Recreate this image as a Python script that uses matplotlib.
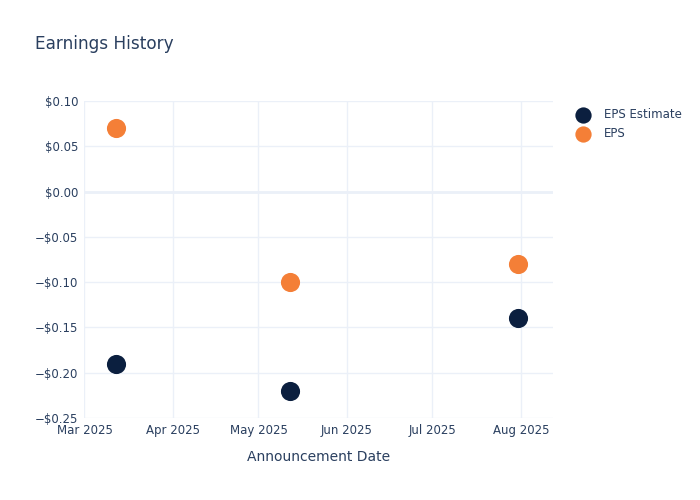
import matplotlib
matplotlib.use("Agg")
import matplotlib.pyplot as plt
import matplotlib.dates as mdates
import matplotlib.ticker as mticker
import numpy as np
import datetime as dt

dates = ["2025-03-12", "2025-05-12", "2025-07-31"]
eps_estimate = [-0.19, -0.22, -0.14]
eps_actual = [0.07, -0.10, -0.08]
yticks = [0.10, 0.05, 0.00, -0.05, -0.10, -0.15, -0.20, -0.25]

x = [dt.datetime.strptime(d, "%Y-%m-%d") for d in dates]

text_color = "#2a3f5f"
grid_color = "#ebf0f8"

fig = plt.figure(figsize=(7, 5), dpi=100)
ax = fig.add_axes([84/700, 1-418/500, (553-84)/700, (418-101)/500])

ax.scatter(x, eps_estimate, s=190, color="#0b1f3f", label="EPS Estimate", zorder=3, linewidths=0)
ax.scatter(x, eps_actual, s=190, color="#f47f37", label="EPS", zorder=3, linewidths=0)

ax.set_ylim(-0.25, 0.10)
ax.set_xlim(dt.datetime(2025, 2, 28, 20), dt.datetime(2025, 8, 12, 6))
ax.set_yticks(yticks)
def fmt(v, pos):
    s = "${:.2f}".format(abs(v))
    return ("\u2212" + s) if v < -1e-9 else s
ax.yaxis.set_major_formatter(mticker.FuncFormatter(fmt))
ax.xaxis.set_major_locator(mdates.MonthLocator())
ax.xaxis.set_major_formatter(mdates.DateFormatter("%b %Y"))

ax.grid(True, color=grid_color, linewidth=1, zorder=0)
ax.axhline(0, color=grid_color, linewidth=2, zorder=1)
for s in ax.spines.values():
    s.set_visible(False)
ax.tick_params(axis="y", length=0, colors=text_color, labelsize=8.5, pad=4)
ax.tick_params(axis="x", length=0, colors=text_color, labelsize=8.5, pad=4)
ax.set_axisbelow(True)

ax.set_xlabel("Announcement Date", color=text_color, fontsize=10, labelpad=10)
fig.text(35/700, 1-44/500, "Earnings History", color=text_color, fontsize=12.2, va="center", ha="left")

leg = ax.legend(loc="upper left", bbox_to_anchor=(1.0285, 0.992), frameon=False,
                fontsize=8.5, labelcolor=text_color, handletextpad=0.75, borderaxespad=0,
                markerscale=0.85, labelspacing=0.5)

fig.savefig("out.png", dpi=100, facecolor="white")
